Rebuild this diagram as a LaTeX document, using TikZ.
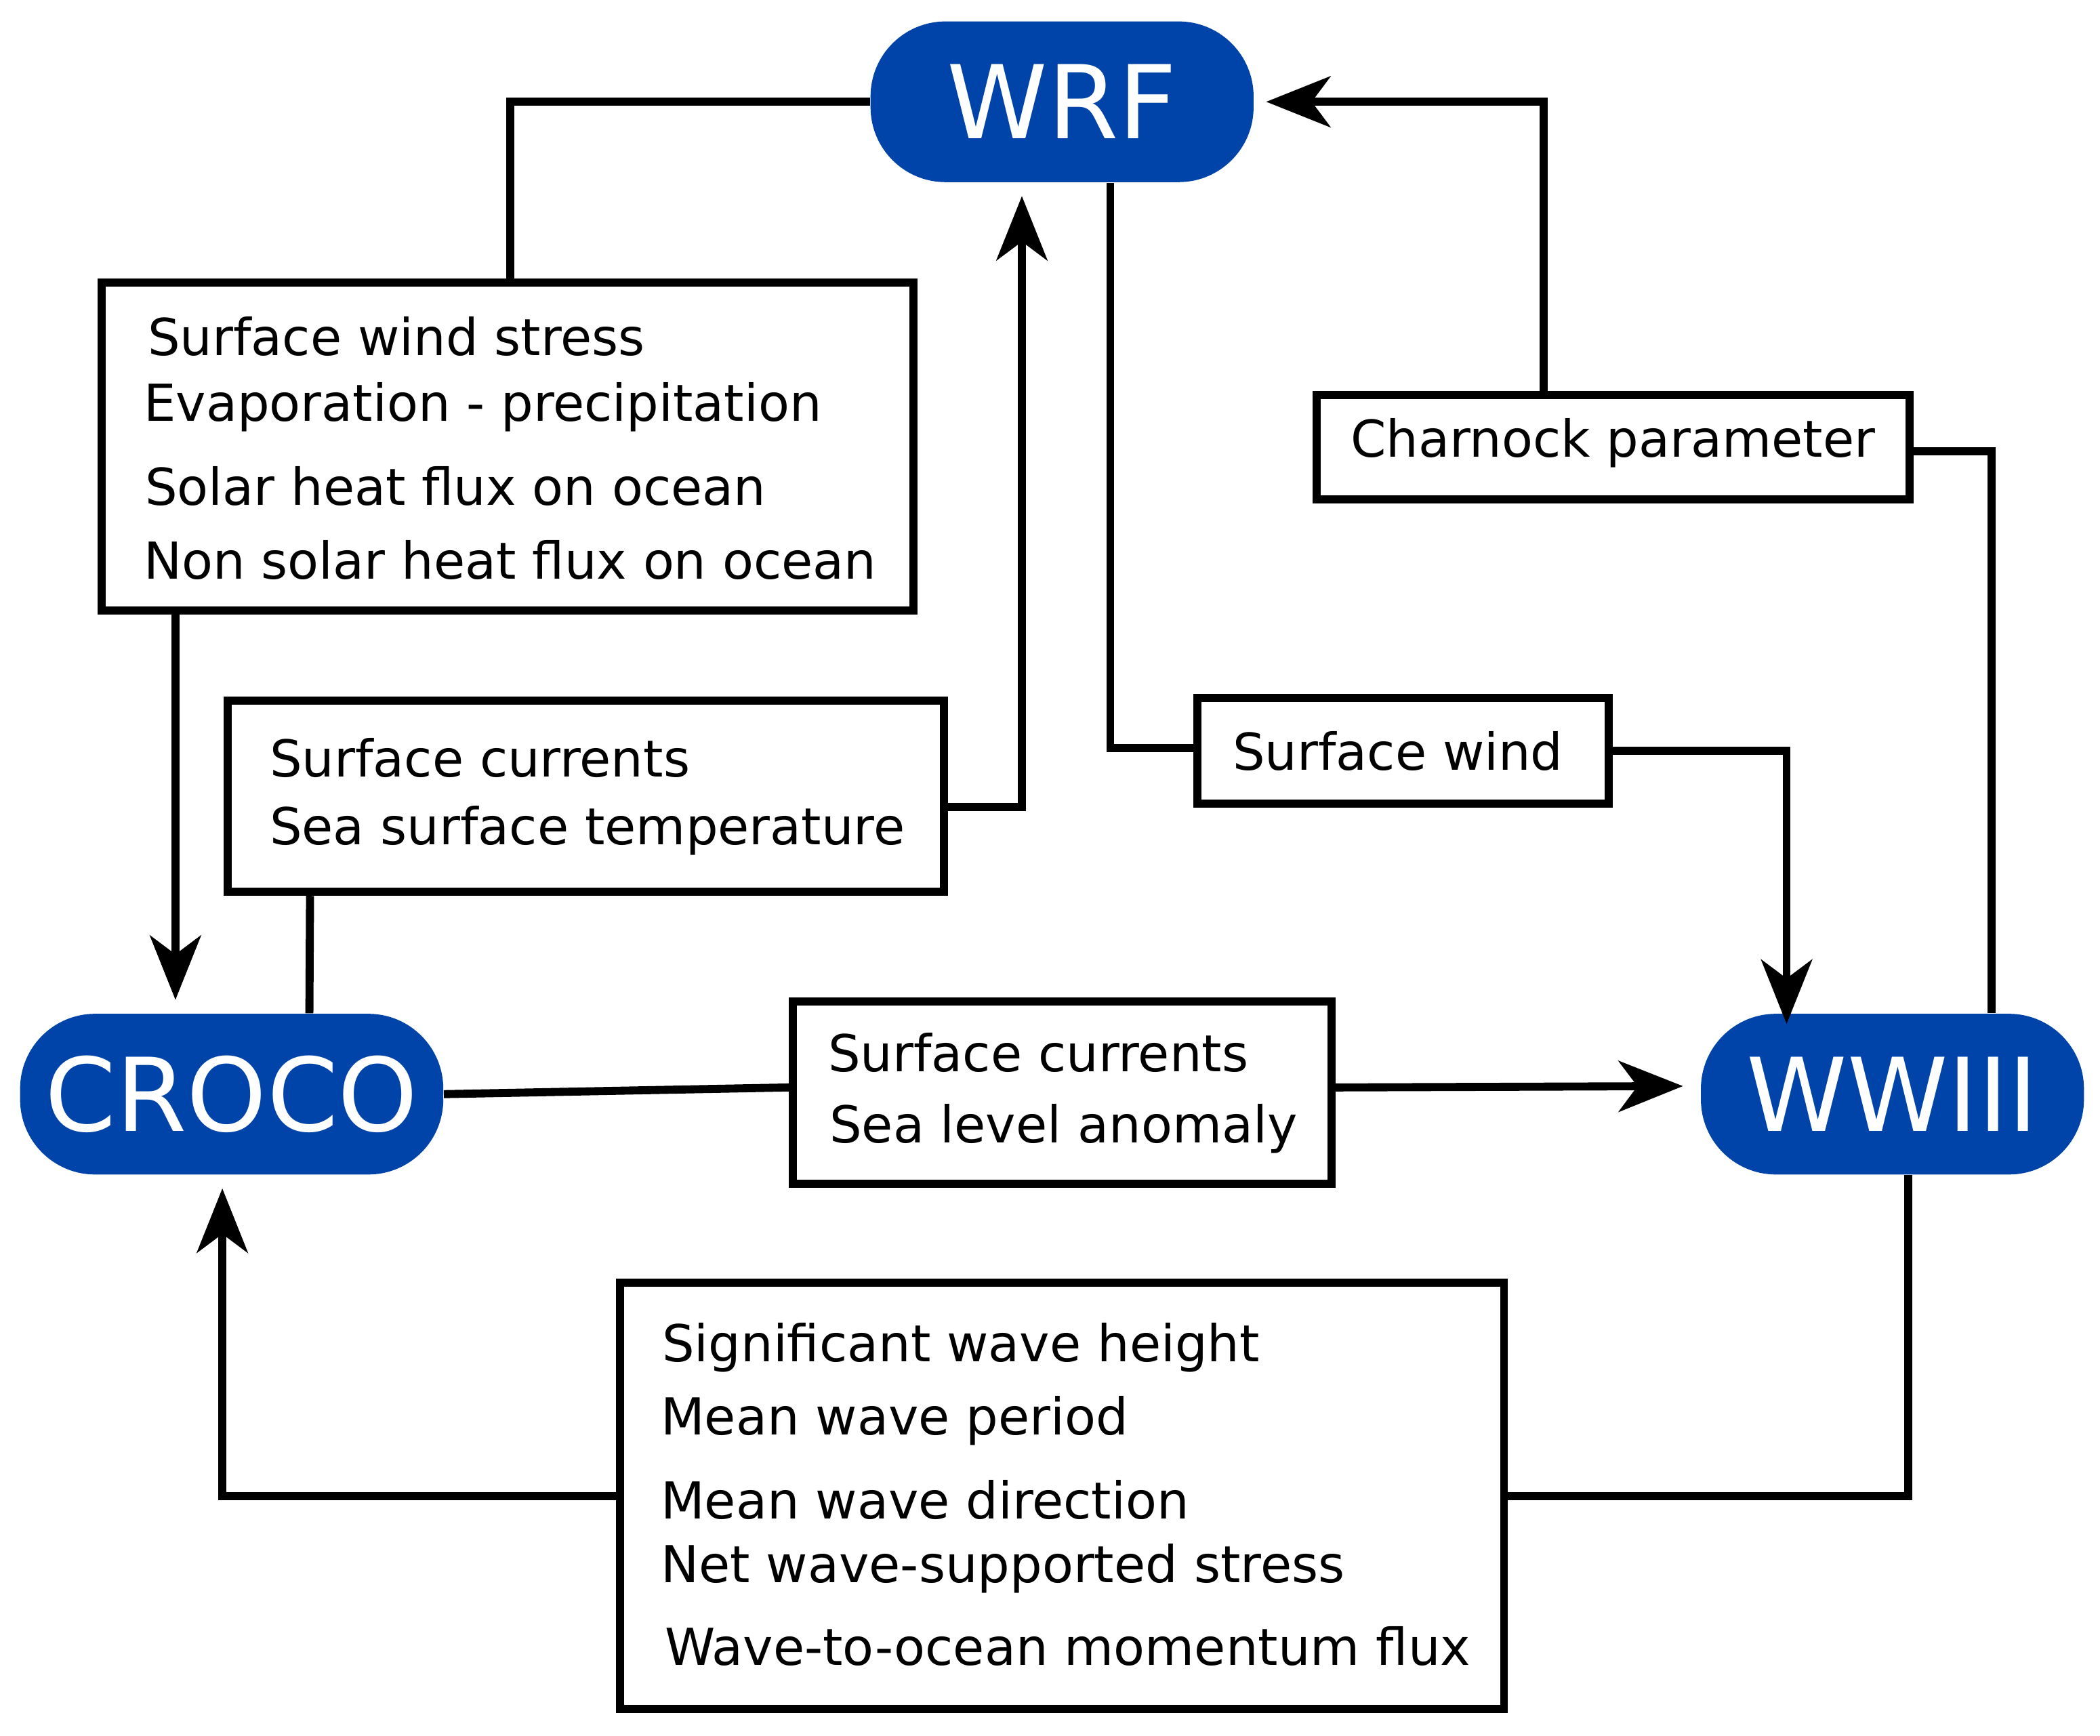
\documentclass[tikz,border=0pt]{standalone}
\usepackage{fontspec}
\setmainfont{DejaVu Sans}
\usetikzlibrary{arrows.meta,calc}
\definecolor{modelblue}{RGB}{0,68,170}
\begin{document}
\begin{tikzpicture}[x=0.5pt,y=-0.5pt,
  model/.style={fill=modelblue,text=white,rounded corners=28pt,inner sep=0pt,font=\fontsize{38}{40}\selectfont},
  box/.style={draw,line width=3pt,inner sep=0pt},
  txt/.style={anchor=west,inner sep=0pt,font=\fontsize{19}{22}\selectfont},
  link/.style={line width=3pt},
  arr/.style={line width=3pt,-{Stealth[length=24pt,width=19pt,inset=7pt]}}]
\useasboundingbox (0,0) rectangle (1568,1296);

% models
\node[model,minimum width=143pt,minimum height=60pt] (wrf) at (793,76) {WRF};
\node[model,minimum width=158pt,minimum height=60pt] (croco) at (173,817) {CROCO};
\node[model,minimum width=143pt,minimum height=60pt] (ww) at (1413,817) {WWIII};

% exchanged fields
\node[box,minimum width=303pt,minimum height=122.5pt] (atm) at (379,333.5) {};
\node[txt] (atm1) at (110,251) {Surface wind stress};
\node[txt] (atm2) at (107,304) {Evaporation - precipitation};
\node[txt] (atm3) at (108,363) {Solar heat flux on ocean};
\node[txt] (atm4) at (107,418) {Non solar heat flux on ocean};

\node[box,minimum width=267.5pt,minimum height=71.5pt] (oce) at (437.5,594.5) {};
\node[txt] (oce1) at (201,566) {Surface currents};
\node[txt] (oce2) at (201,620) {Sea surface temperature};

\node[box,minimum width=221.5pt,minimum height=39pt] (chk) at (1204.5,334) {};
\node[txt] (chk1) at (1008,331) {Charnock parameter};

\node[box,minimum width=153.5pt,minimum height=39.5pt] (wnd) at (1047.5,560.5) {};
\node[txt] (wnd1) at (920,561) {Surface wind};

\node[box,minimum width=201pt,minimum height=68pt] (cur) at (793,816) {};
\node[txt] (cur1) at (618,786) {Surface currents};
\node[txt] (cur2) at (619,843) {Sea level anomaly};

\node[box,minimum width=330pt,minimum height=159pt] (wav) at (793,1117) {};
\node[txt] (wav1) at (494,1006) {Significant wave height};
\node[txt] (wav2) at (493,1061) {Mean wave period};
\node[txt] (wav3) at (493,1120) {Mean wave direction};
\node[txt] (wav4) at (493,1171) {Net wave-supported stress};
\node[txt] (wav5) at (496,1229) {Wave-to-ocean momentum flux};

% connectors
\draw[link] (wrf.west) -| ([xshift=1pt]atm.north);
\draw[arr] ([xshift=-124pt]atm.south) -- ([xshift=-21pt,yshift=5pt]croco.north);
\draw[link] ([xshift=-103pt]oce.south) -- ([xshift=29pt]croco.north);
\draw[arr] ([yshift=-4pt]oce.east) -| ([xshift=-15pt,yshift=-5pt]wrf.south);
\draw[link] ([xshift=18pt]wrf.south) |- ([yshift=1pt]wnd.west);
\draw[arr] (wnd.east) -| ([xshift=-39.5pt,yshift=-4pt]ww.north);
\draw[arr] ([xshift=-26pt]chk.north) |- ([xshift=4.5pt]wrf.east);
\draw[link] ([xshift=37pt]ww.north) |- ([yshift=-1.5pt]chk.east);
\draw[link] (croco.east) -- ([yshift=2pt]cur.west);
\draw[arr] ([yshift=2pt]cur.east) -- ([xshift=-6.5pt,yshift=3pt]ww.west);
\draw[link] ([xshift=6pt]ww.south) |- (wav.east);
\draw[arr] (wav.west) -| ([xshift=-3.5pt,yshift=-5pt]croco.south);
\end{tikzpicture}
\end{document}
